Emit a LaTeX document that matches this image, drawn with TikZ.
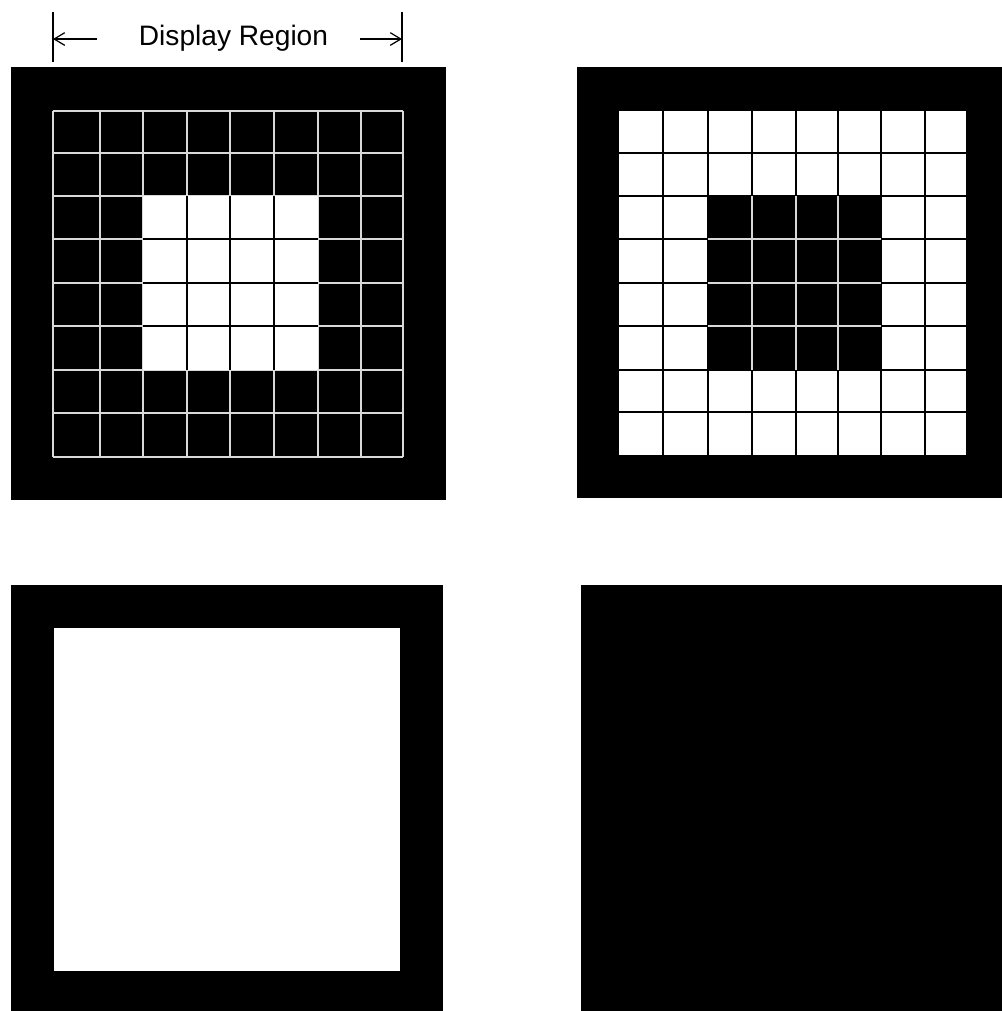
\documentclass[tikz,border=0pt]{standalone}
\usepackage{fontspec}
\setmainfont{Liberation Sans}
\usetikzlibrary{arrows.meta,positioning}

\begin{document}
\begin{tikzpicture}[
  >={Straight Barb[length=3pt,width=3.6pt]},
  x=0.01cm,y=-0.01cm,
  frame/.style={fill=black},
  gridw/.style={draw=white!85!black, line width=0.45pt},
  gridb/.style={draw=black, line width=0.45pt},
  dim/.style={line width=0.35pt},
  caption/.style={font=\fontsize{8}{10}\selectfont, inner sep=0pt, anchor=base},
]
\useasboundingbox (0,0) rectangle (1002,1011);

% ---------------- Dimension line (display region) ----------------
\coordinate (tickLt) at (53,12);  \coordinate (tickLb) at (53,62);
\coordinate (tickRt) at (402,12); \coordinate (tickRb) at (402,62);
\coordinate (dimL) at (53,39);    \coordinate (dimR) at (402,39);
\coordinate (arrL) at (97,39);    \coordinate (arrR) at (360,39);

\draw[dim] (tickLt) -- (tickLb);
\draw[dim] (tickRt) -- (tickRb);
\node[caption] (disp) at (233.5,45) {Display Region};
\draw[dim,->] (arrL) -- (dimL);
\draw[dim,->] (arrR) -- (dimR);

% ---------------- Top left: dark cells, light centre ----------------
\fill[frame] (11,67) rectangle (446,500);
\foreach \x in {53,100,143,187,230,274,318,361,403}
  \draw[gridw] (\x,111) -- (\x,457);
\foreach \y in {111,153,196,239,283,326,370,413,457}
  \draw[gridw] (53,\y) -- (403,\y);
\fill[white] (143,196) rectangle (318,370);
\foreach \x in {187,230,274}
  \draw[gridb] (\x,196) -- (\x,370);
\foreach \y in {239,283,326}
  \draw[gridb] (143,\y) -- (318,\y);

% ---------------- Top right: light cells, dark centre ----------------
\fill[frame] (577,67) rectangle (1002,498);
\fill[white] (619,111) rectangle (966,455);
\foreach \x in {663,708,752,796,838,881,925}
  \draw[gridb] (\x,111) -- (\x,455);
\foreach \y in {153,196,239,283,326,370,412}
  \draw[gridb] (619,\y) -- (966,\y);
\fill[frame] (708,196) rectangle (881,370);
\foreach \x in {752,796,838}
  \draw[gridw] (\x,196) -- (\x,370);
\foreach \y in {239,283,326}
  \draw[gridw] (708,\y) -- (881,\y);

% ---------------- Bottom row ----------------
\fill[frame] (11,585) rectangle (443,1011);
\fill[white] (54,628) rectangle (400,971);

\fill[frame] (581,585) rectangle (1002,1011);

\end{tikzpicture}
\end{document}
